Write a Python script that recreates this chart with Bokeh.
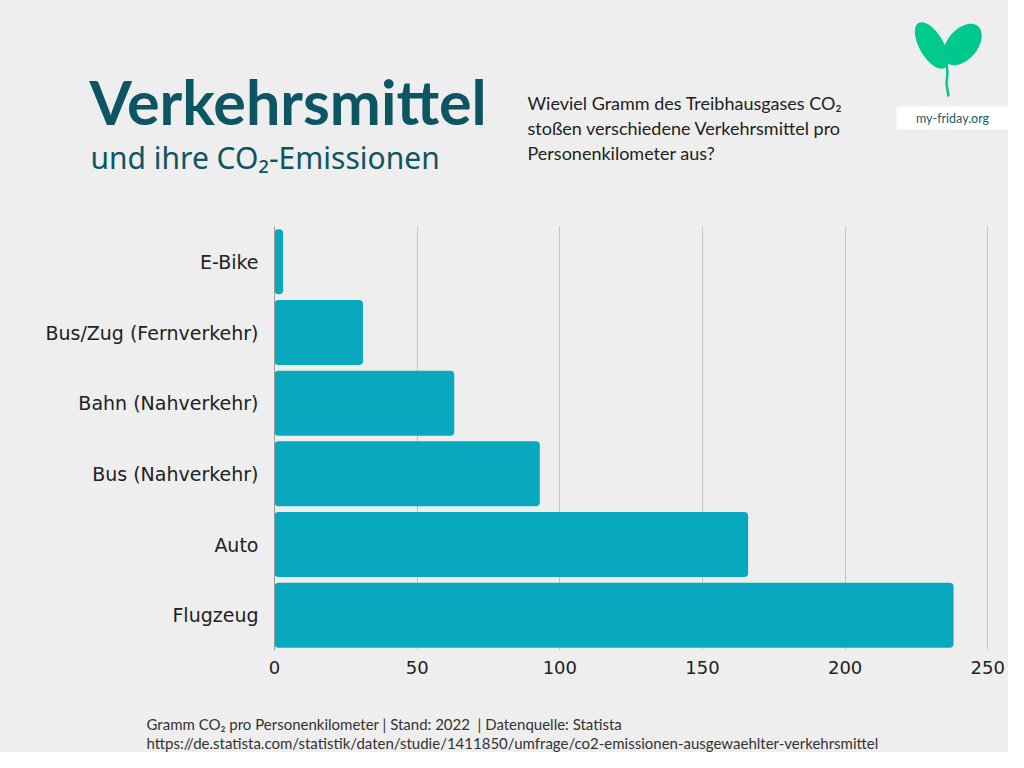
import math
from bokeh.plotting import figure
from bokeh.layouts import column
from bokeh.models import FactorRange, Range1d, FixedTicker
from bokeh.core.properties import value
from bokeh.embed import file_html
from bokeh.resources import INLINE

# ---- data ----
categories = ["E-Bike", "Bus/Zug (Fernverkehr)", "Bahn (Nahverkehr)", "Bus (Nahverkehr)", "Auto", "Flugzeug"]
emissions = [3, 31, 63, 93, 166, 238]
x_ticks = [0, 50, 100, 150, 200, 250]

title_text = "Verkehrsmittel"
subtitle_text = "und ihre CO\u2082-Emissionen"
question_lines = ["Wieviel Gramm des Treibhausgases CO\u2082",
                  "stoßen verschiedene Verkehrsmittel pro",
                  "Personenkilometer aus?"]
footer_lines = ["Gramm CO\u2082 pro Personenkilometer | Stand: 2022\u00a0 | Datenquelle: Statista",
                "https://de.statista.com/statistik/daten/studie/1411850/umfrage/co2-emissionen-ausgewaehlter-verkehrsmittel"]
logo_text = "my-friday.org"

BG = "#eeeeee"
BAR = "#08a9bf"
TEAL = "#0e5563"
GREEN = "#00c98e"
W = 1008
H_HEAD, H_CHART = 218, 466
H_FOOT = 752 - H_HEAD - H_CHART


def blank(height, y0):
    f = figure(width=W, height=height, x_range=Range1d(0, W), y_range=Range1d(y0 + height, y0),
               output_backend="svg", toolbar_location=None, min_border=0, frame_align=False)
    f.axis.visible = False
    f.grid.grid_line_color = None
    f.outline_line_color = None
    f.background_fill_color = BG
    f.border_fill_color = BG
    return f


def txt(f, x, y, s, size, font, color, style="normal", align="left", baseline="alphabetic"):
    f.text(x=[x], y=[y], text=[s], text_font=value(font), text_font_size=size,
           text_color=color, text_font_style=style, text_align=align, text_baseline=baseline)


# ---- header ----
head = blank(H_HEAD, 0)
txt(head, 89, 101, title_text, "61px", "Lato", TEAL, style="bold")
txt(head, 90, 157, subtitle_text, "30px", "Noto Sans", TEAL)
for i, line in enumerate(question_lines):
    txt(head, 527, 102 + 25 * i, line, "18px", "Lato", "#222222")


def leaf(cx, cy, a, b, ang):
    xs, ys = [], []
    for i in range(48):
        t = 2 * math.pi * i / 48
        ex, ey = a * math.cos(t), b * math.sin(t)
        xs.append(cx + ex * math.cos(ang) - ey * math.sin(ang))
        ys.append(cy + ex * math.sin(ang) + ey * math.cos(ang))
    return xs, ys

lx, ly = leaf(931, 45, 26, 12, math.radians(60))
rx, ry = leaf(962, 44, 24, 15, math.radians(-50))
head.patches(xs=[lx, rx], ys=[ly, ry], fill_color=GREEN, line_color=None)
head.line(x=[946, 947, 946, 948], y=[62, 72, 83, 96], line_color=GREEN, line_width=2.5)
head.quad(left=[896], right=[1008], top=[106], bottom=[129], fill_color="white", line_color=None)
txt(head, 952, 118, logo_text, "12.5px", "Lato", "#1d5c6b", align="center", baseline="middle")

# ---- chart ----
p = figure(width=W, height=H_CHART,
           y_range=FactorRange(*reversed(categories)),
           x_range=Range1d(0, 252),
           output_backend="svg", toolbar_location=None, frame_align=False,
           min_border_left=274, min_border_right=15,
           min_border_top=8, min_border_bottom=H_CHART - 8 - 424)
p.background_fill_color = BG
p.border_fill_color = BG
p.outline_line_color = None

p.hbar(y=categories, right=emissions, left=0, height=0.92,
       fill_color=BAR, line_color=None, border_radius=4)

p.xaxis.ticker = FixedTicker(ticks=x_ticks)
p.xaxis.axis_line_color = None
p.xaxis.major_tick_line_color = None
p.xaxis.minor_tick_line_color = None
p.xaxis.major_label_text_font = "DejaVu Sans"
p.xaxis.major_label_text_font_size = "18px"
p.xaxis.major_label_text_color = "#222222"
p.xaxis.major_label_standoff = 4

p.yaxis.axis_line_color = "#9a9a9a"
p.yaxis.axis_line_width = 1
p.yaxis.major_tick_line_color = None
p.yaxis.minor_tick_line_color = None
p.yaxis.major_label_text_font = "DejaVu Sans"
p.yaxis.major_label_text_font_size = "19px"
p.yaxis.major_label_text_color = "#222222"
p.yaxis.major_label_standoff = 10

p.xgrid.grid_line_color = "#c4c4c4"
p.xgrid.grid_line_width = 1
p.ygrid.grid_line_color = None

# ---- footer ----
y0 = H_HEAD + H_CHART
foot = blank(H_FOOT, y0)
txt(foot, 146, 723, footer_lines[0], "15px", "Lato", "#333333")
txt(foot, 146, 742, footer_lines[1], "15px", "Lato", "#333333")

layout = column(head, p, foot, spacing=0, styles={"background-color": BG})
open("out.html", "w").write(file_html(layout, INLINE))
